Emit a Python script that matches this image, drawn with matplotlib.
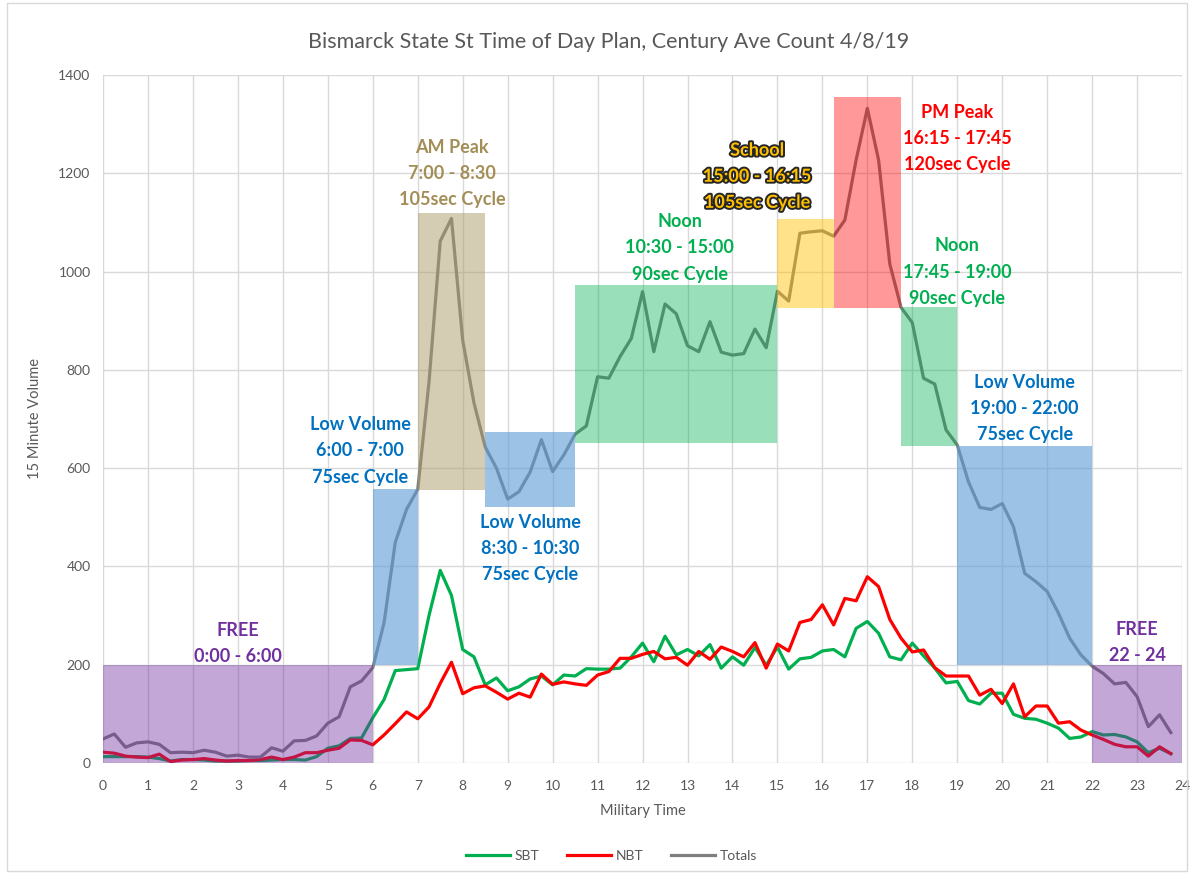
import numpy as np
import matplotlib
matplotlib.use("Agg")
from matplotlib import pyplot as plt
from matplotlib.patches import Rectangle
import matplotlib.patheffects as pe

plt.rcParams['font.family'] = ['Lato', 'DejaVu Sans']

# 15 minute counts, one row per hour
hours = np.arange(96) / 4.0

sbt = [13, 13, 13, 13,   12, 9, 4, 7,       7, 6, 4, 4,         4, 5, 5, 6,
       7, 7, 6, 13,      30, 35, 50, 51,    92, 129, 188, 190,  192, 300, 392, 341,
       231, 216, 159, 173, 147, 155, 171, 177, 159, 179, 177, 192, 191, 191, 193, 216,
       244, 206, 258, 220, 231, 218, 241, 193, 216, 199, 235, 199, 236, 191, 212, 215,
       228, 231, 216, 274, 288, 264, 216, 210, 244, 218, 193, 163, 166, 127, 120, 142,
       142, 99, 91, 89,  81, 71, 50, 53,    64, 57, 58, 53,     43, 21, 30, 19]

nbt = [22, 20, 14, 12,   11, 18, 3, 6,      7, 9, 6, 4,         5, 5, 7, 12,
       7, 12, 21, 21,    26, 30, 47, 46,    37, 57, 80, 104,    90, 114, 162, 205,
       141, 153, 157, 144, 130, 142, 134, 181, 160, 165, 161, 158, 179, 186, 213, 213,
       221, 227, 212, 215, 199, 227, 211, 236, 227, 216, 245, 193, 242, 228, 286, 292,
       322, 281, 335, 330, 379, 359, 292, 254, 226, 230, 194, 177, 177, 177, 138, 150,
       121, 161, 94, 116, 116, 81, 84, 67,  57, 48, 38, 33,     33, 14, 33, 19]

totals = [49, 59, 32, 41,    43, 38, 21, 22,     21, 26, 22, 14,     16, 12, 12, 31,
          24, 45, 46, 55,    81, 94, 155, 167,   194, 285, 449, 516, 557, 775, 1062, 1108,
          860, 733, 643, 600, 537, 552, 592, 658, 593, 627, 669, 686, 786, 783, 827, 864,
          959, 837, 934, 914, 849, 837, 898, 836, 830, 833, 883, 845, 960, 940, 1078, 1081,
          1083, 1072, 1105, 1227, 1332, 1227, 1015, 927, 896, 783, 771, 678, 647, 572, 520, 516,
          528, 481, 386, 369, 349, 305, 254, 220, 197, 182, 161, 164, 135, 74, 98, 62]

# signal timing plan blocks
zone_start = [0, 6, 7, 8.5, 10.5, 15, 16.25, 17.75, 19, 22]
zone_end = [6, 7, 8.5, 10.5, 15, 16.25, 17.75, 19, 22, 24]
zone_low = [0, 200, 555, 520, 652, 925, 925, 645, 200, 0]
zone_high = [200, 557, 1120, 673, 973, 1107, 1355, 927, 645, 200]
zone_fill = ['#7030A0', '#5B9BD5', '#AC9A6B', '#5B9BD5', '#00B050',
             '#FFC000', '#FF0000', '#00B050', '#5B9BD5', '#7030A0']
zone_alpha = [0.42, 0.6, 0.5, 0.6, 0.4, 0.46, 0.4, 0.4, 0.6, 0.42]

zone_text = ['FREE\n0:00 - 6:00',
             'Low Volume\n6:00 - 7:00\n75sec Cycle',
             'AM Peak\n7:00 - 8:30\n105sec Cycle',
             'Low Volume\n8:30 - 10:30\n75sec Cycle',
             'Noon\n10:30 - 15:00\n90sec Cycle',
             'School\n15:00 - 16:15\n105sec Cycle',
             'PM Peak\n16:15 - 17:45\n120sec Cycle',
             'Noon\n17:45 - 19:00\n90sec Cycle',
             'Low Volume\n19:00 - 22:00\n75sec Cycle',
             'FREE\n22 - 24']
text_x = [3.0, 5.72, 7.76, 9.5, 12.83, 14.55, 19.0, 19.0, 20.5, 23.0]
text_y = [244, 635, 1200, 437, 1048, 1194, 1270, 999, 722, 246]
text_color = ['#7030A0', '#0070C0', '#A38E57', '#0070C0', '#00B050',
              '#FFC000', '#FF0000', '#00B050', '#0070C0', '#7030A0']

fig = plt.figure(figsize=(11.94, 8.74), dpi=100)
ax = fig.add_axes([0.0863, 0.127, 0.9037, 0.7872])

ax.plot(hours, sbt, color='#00B050', lw=2.3, label='SBT', zorder=3)
ax.plot(hours, nbt, color='#FF0000', lw=2.3, label='NBT', zorder=3)
ax.plot(hours, totals, color='#7F7F7F', lw=2.3, label='Totals', zorder=3)

for i in range(len(zone_start)):
    ax.add_patch(Rectangle((zone_start[i], zone_low[i]),
                           zone_end[i] - zone_start[i], zone_high[i] - zone_low[i],
                           facecolor=zone_fill[i], alpha=zone_alpha[i],
                           edgecolor='none', zorder=4))
    t = ax.text(text_x[i], text_y[i], zone_text[i], color=text_color[i],
                fontsize=13, fontweight='bold', ha='center', va='center',
                linespacing=1.65, zorder=6)
    if zone_text[i].startswith('School'):
        t.set_path_effects([pe.withStroke(linewidth=2.8, foreground='#262626')])

ax.set_xlim(0, 24)
ax.set_ylim(0, 1400)
ax.set_xticks(range(0, 25))
ax.set_yticks(range(0, 1401, 200))
ax.grid(True, color='#D9D9D9', lw=1, zorder=0)
ax.set_axisbelow(True)
for s in ax.spines.values():
    s.set_visible(False)
ax.tick_params(length=0, labelsize=10, colors='#595959')
ax.tick_params(axis='x', pad=12)
ax.tick_params(axis='y', pad=9)
ax.set_xlabel('Military Time', fontsize=10.5, color='#595959', labelpad=9)
ax.set_ylabel('15 Minute Volume', fontsize=10.5, color='#595959', labelpad=12)

fig.text(0.51, 0.952, 'Bismarck State St Time of Day Plan, Century Ave Count 4/8/19',
         ha='center', va='center', fontsize=15.5, color='#595959')

fig.legend(loc='center', bbox_to_anchor=(0.512, 0.021), ncol=3, frameon=False,
           fontsize=10, handlelength=3.2, columnspacing=2.0, handletextpad=0.3,
           labelcolor='#595959')

fig.add_artist(Rectangle((0.006, 0.004), 0.988, 0.992, transform=fig.transFigure,
                         fill=False, edgecolor='#D9D9D9', lw=1))

fig.savefig('out.png', dpi=100)
